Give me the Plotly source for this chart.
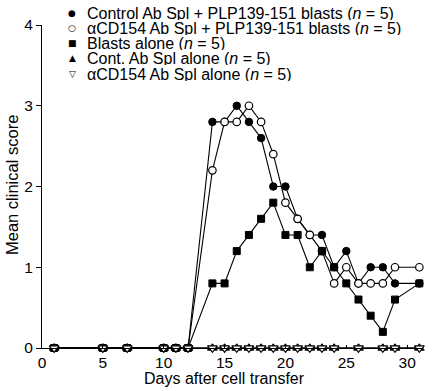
import plotly.graph_objects as go

# ---- data ----
days_blast = [1, 5, 7, 10, 11, 12, 14, 15, 16, 17, 18, 19, 20, 21, 22, 23, 24, 25, 26, 27, 28, 29, 31]
ctrl_ab_blasts = [0, 0, 0, 0, 0, 0, 2.8, 2.8, 3.0, 2.8, 2.6, 2.0, 2.0, 1.6, 1.4, 1.4, 1.0, 1.2, 0.8, 1.0, 1.0, 0.8, 0.8]
acd154_blasts = [0, 0, 0, 0, 0, 0, 2.2, 2.8, 2.8, 3.0, 2.8, 2.4, 1.8, 1.6, 1.4, 1.2, 0.8, 1.0, 0.8, 0.8, 0.8, 1.0, 1.0]
blasts_alone = [0, 0, 0, 0, 0, 0, 0.8, 0.8, 1.2, 1.4, 1.6, 1.8, 1.4, 1.4, 1.0, 1.2, 1.0, 0.8, 0.6, 0.4, 0.2, 0.6, 0.8]

days_spl = [1, 5, 7, 10, 11, 12, 14, 15, 16, 17, 18, 19, 20, 21, 22, 23, 24, 26, 28, 29, 31]
cont_spl_alone = [0] * len(days_spl)
acd154_spl_alone = [0] * len(days_spl)

legend_labels = [
    "Control Ab Spl + PLP139-151 blasts (<i>n</i> = 5)",
    "αCD154 Ab Spl + PLP139-151 blasts (<i>n</i> = 5)",
    "Blasts alone (<i>n</i> = 5)",
    "Cont. Ab Spl alone (<i>n</i> = 5)",
    "αCD154 Ab Spl alone (<i>n</i> = 5)",
]
legend_symbols = ["●", "○", "■", "▲", "▽"]

x_ticks = [0, 5, 10, 15, 20, 25, 30]
y_ticks = [0, 1, 2, 3, 4]
x_title = "Days after cell transfer"
y_title = "Mean clinical score"

# ---- figure ----
W, H = 438, 391
ML, MR, MT, MB = 42, 15, 25, 43
PW, PH = W - ML - MR, H - MT - MB

fig = go.Figure()
line = dict(color="black", width=1.1)

fig.add_trace(go.Scatter(x=days_blast, y=ctrl_ab_blasts, mode="lines+markers", line=line,
                         marker=dict(symbol="circle", size=7.5, color="black", line=dict(color="black", width=1))))
fig.add_trace(go.Scatter(x=days_blast, y=acd154_blasts, mode="lines+markers", line=line,
                         marker=dict(symbol="circle", size=7.5, color="white", line=dict(color="black", width=1.2))))
fig.add_trace(go.Scatter(x=days_blast, y=blasts_alone, mode="lines+markers", line=line,
                         marker=dict(symbol="square", size=7, color="black", line=dict(color="black", width=1))))
fig.add_trace(go.Scatter(x=days_spl, y=cont_spl_alone, mode="lines+markers", line=line,
                         marker=dict(symbol="triangle-up", size=8.5, color="black", line=dict(color="black", width=1))))
fig.add_trace(go.Scatter(x=days_spl, y=acd154_spl_alone, mode="lines+markers", line=line,
                         marker=dict(symbol="triangle-down", size=8.5, color="white", line=dict(color="black", width=1.2))))
fig.update_traces(cliponaxis=False, showlegend=False)

font = "Liberation Sans, Arial, sans-serif"

annotations = []
for i, (sym, lab) in enumerate(zip(legend_symbols, legend_labels)):
    py = 12.5 + 15.3 * i
    yp = (H - MB - py) / PH
    annotations.append(dict(xref="paper", yref="paper", x=(72 - ML) / PW, y=yp, text=sym,
                            showarrow=False, xanchor="center", yanchor="middle", height=14,
                            font=dict(family="DejaVu Sans", size=9, color="black")))
    annotations.append(dict(xref="paper", yref="paper", x=(85 - ML) / PW, y=yp, text=lab,
                            showarrow=False, xanchor="left", yanchor="middle", height=14,
                            font=dict(family=font, size=16, color="black")))

# axis titles as annotations for exact placement
annotations.append(dict(xref="paper", yref="paper", x=(224 - ML) / PW, y=(H - MB - 378) / PH, text=x_title,
                        showarrow=False, xanchor="center", yanchor="middle",
                        font=dict(family=font, size=16, color="black")))
annotations.append(dict(xref="paper", yref="paper", x=(12 - ML) / PW, y=(H - MB - 185) / PH, text=y_title,
                        textangle=-90, showarrow=False, xanchor="center", yanchor="middle",
                        font=dict(family=font, size=16.5, color="black")))

fig.update_layout(
    width=W, height=H,
    margin=dict(l=ML, r=MR, t=MT, b=MB, autoexpand=False),
    paper_bgcolor="white", plot_bgcolor="white",
    font=dict(family=font, size=15.5, color="black"),
    annotations=annotations,
    xaxis=dict(range=[0, 31.3], tickvals=x_ticks, ticks="inside", ticklen=3, tickwidth=1,
               tickcolor="black", showline=True, linecolor="black", linewidth=1,
               showgrid=False, zeroline=False, tickfont=dict(size=15.5), automargin=False),
    yaxis=dict(range=[0, 4], tickvals=y_ticks, ticks="outside", ticklen=5, tickwidth=1,
               tickcolor="black", showline=True, linecolor="black", linewidth=1,
               showgrid=False, zeroline=False, tickfont=dict(size=15.5), automargin=False),
)

fig.write_html("out.html", config={"displayModeBar": False},
               post_script="document.body.style.margin='0px';")
